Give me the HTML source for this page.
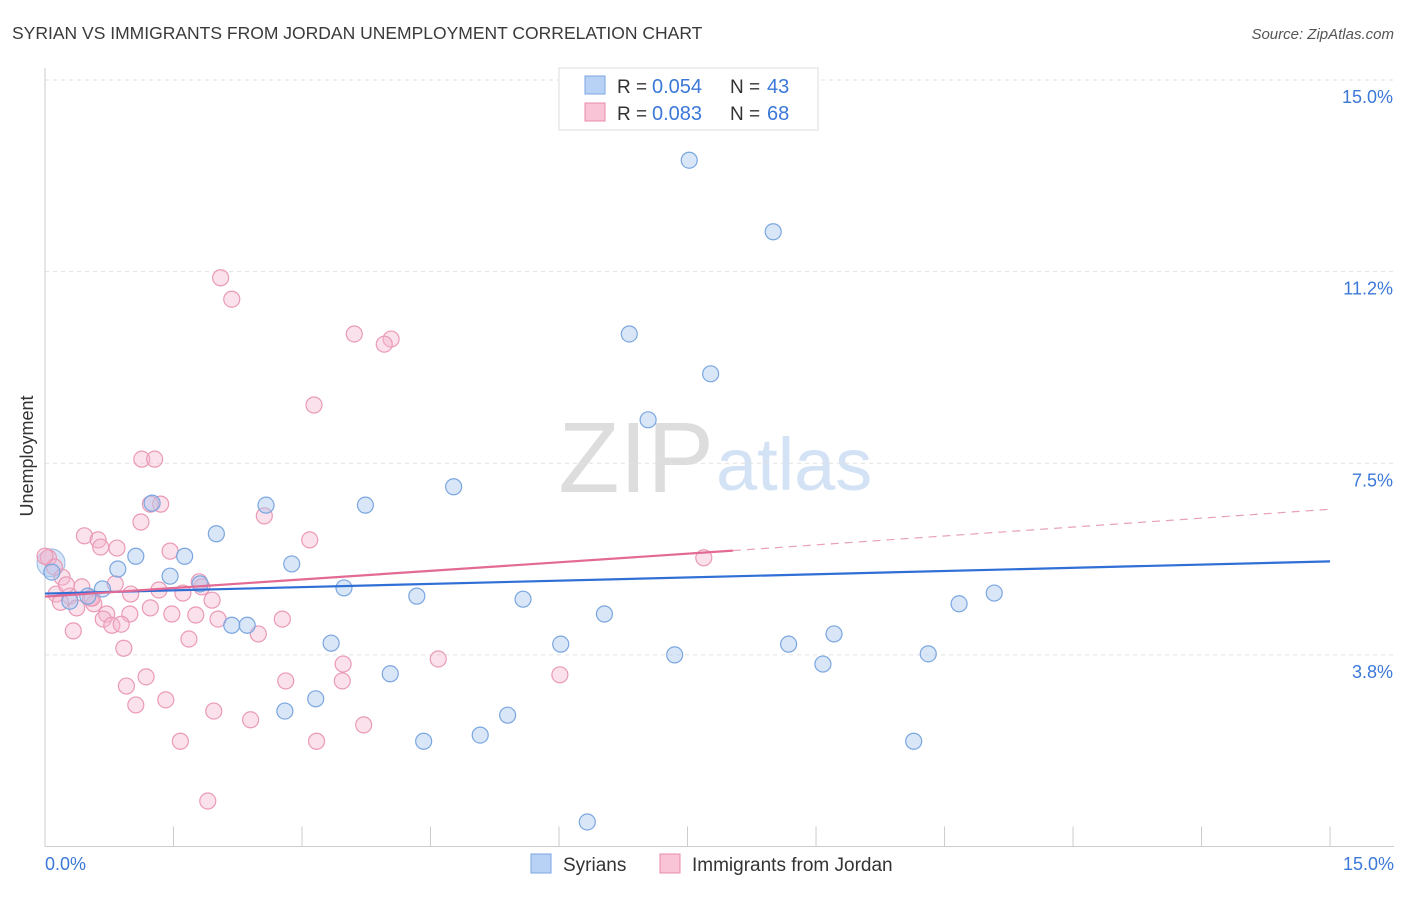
<!DOCTYPE html>
<html><head><meta charset="utf-8">
<style>
body{margin:0;background:#fff;font-family:"Liberation Sans",sans-serif;}
svg text{font-family:"Liberation Sans",sans-serif;}
</style></head>
<body>
<svg id="chart" width="1406" height="892" viewBox="0 0 1406 892" xmlns="http://www.w3.org/2000/svg">
<text x="12" y="39" font-size="17.5" fill="#3a3a3a">SYRIAN VS IMMIGRANTS FROM JORDAN UNEMPLOYMENT CORRELATION CHART</text>
<text x="1394" y="39" font-size="15" fill="#555" text-anchor="end" font-style="italic">Source: ZipAtlas.com</text>
<text x="714" y="492" font-size="100" fill="#ddd" text-anchor="end" font-family="Liberation Serif">ZIP</text>
<text x="716" y="490" font-size="74" fill="#d3e2f5">atlas</text>
<g id="grid"></g>
<g id="marks"></g>
<text transform="translate(33,456) rotate(-90)" font-size="18" fill="#333" text-anchor="middle">Unemployment</text>
<text x="45" y="870" font-size="18" fill="#3b78d8">0.0%</text>
<text x="1394" y="870" font-size="18" fill="#3b78d8" text-anchor="end">15.0%</text>
<g>
<rect x="559" y="68" width="259" height="62" fill="#fff" stroke="#ddd"/>
<rect x="585" y="76" width="20" height="18" fill="#b8d2f5" stroke="#7aa6e0"/>
<rect x="585" y="103" width="20" height="18" fill="#f9c5d6" stroke="#e88aa8"/>
<text x="617" y="93" font-size="19" fill="#333">R =</text>
<text x="652" y="93" font-size="20" fill="#3b78d8">0.054</text>
<text x="730" y="93" font-size="19" fill="#333">N =</text>
<text x="767" y="93" font-size="20" fill="#3b78d8">43</text>
<text x="617" y="120" font-size="19" fill="#333">R =</text>
<text x="652" y="120" font-size="20" fill="#3b78d8">0.083</text>
<text x="730" y="120" font-size="19" fill="#333">N =</text>
<text x="767" y="120" font-size="20" fill="#3b78d8">68</text>
</g>
<g>
<rect x="531" y="854" width="20" height="19" fill="#b8d2f5" stroke="#7aa6e0"/>
<text x="563" y="871" font-size="19" fill="#333">Syrians</text>
<rect x="660" y="854" width="20" height="19" fill="#f9c5d6" stroke="#e88aa8"/>
<text x="692" y="871" font-size="19" fill="#333">Immigrants from Jordan</text>
</g>
</svg>
<script>
const yTicks=[15.0,11.25,7.5,3.75];
const yTickLabels=["15.0%","11.2%","7.5%","3.8%"];
const xTicks=[0,1.5,3,4.5,6,7.5,9,10.5,12,13.5,15];
const syrianPx=[[689,160],[773,232],[629,334],[711,374],[648,420],[454,487],[365,505],[266,505],[152,503],[216,534],[136,556],[185,556],[292,564],[118,569],[170,576],[200,584],[102,589],[344,588],[417,596],[523,599],[604,614],[959,604],[994,593],[834,634],[789,644],[561,644],[331,643],[232,625],[247,625],[675,655],[823,664],[928,654],[390,674],[316,699],[285,711],[508,715],[480,735],[424,741],[914,741],[587,822],[70,601],[88,596],[52,572]];
const jordanPx=[[221,278],[232,299],[354,334],[391,339],[384,344],[314,405],[142,459],[155,459],[161,504],[150,504],[264,516],[141,522],[84,536],[98,540],[310,540],[101,547],[117,548],[170,551],[48,558],[54,567],[62,577],[199,582],[82,587],[159,590],[131,594],[183,593],[202,587],[56,594],[70,596],[90,598],[212,600],[60,602],[115,584],[77,608],[150,608],[94,604],[107,614],[130,614],[172,614],[196,615],[218,619],[282,619],[103,619],[112,625],[121,624],[73,631],[189,639],[258,634],[124,648],[438,659],[343,664],[560,675],[146,677],[286,681],[342,681],[126,686],[166,700],[136,705],[214,711],[251,720],[364,725],[180,741],[317,741],[208,801],[704,558],[66,585],[92,598],[45,556]];
const syrianXs=syrianPx.map(p=>+((p[0]-45)/85.67).toFixed(2));
const syrianYs=syrianPx.map(p=>+(15-(p[1]-80)/51.1).toFixed(2));
const jordanXs=jordanPx.map(p=>+((p[0]-45)/85.67).toFixed(2));
const jordanYs=jordanPx.map(p=>+(15-(p[1]-80)/51.1).toFixed(2));
const syrianTrend=[[0,4.95],[15,5.58]];
const jordanTrend=[[0,4.89],[8.03,5.79]];
const jordanTrendExt=[[8.03,5.79],[15,6.6]];
const X=v=>45+v*85.67, Y=v=>80+(15-v)*51.1;
const NS="http://www.w3.org/2000/svg";
function mk(tag,attrs,parent){const e=document.createElementNS(NS,tag);for(const k in attrs)e.setAttribute(k,attrs[k]);parent.appendChild(e);return e;}
const grid=document.getElementById('grid'), marks=document.getElementById('marks');
yTicks.forEach((t,i)=>{
 const l=mk('line',{x1:45,x2:1394,y1:Y(t),y2:Y(t),stroke:'#e2e2e2','stroke-dasharray':'4,4'},grid);
 
 
 const tx=mk('text',{x:1393,y:Y(t)+23,'font-size':18,fill:'#3b78d8','text-anchor':'end'},grid);
 tx.textContent=yTickLabels[i];
 
 
});
const ax=mk('line',{x1:45,x2:1394,y1:Y(0),y2:Y(0),stroke:'#ccc'},grid);


const ay=mk('line',{x1:45,x2:45,y1:68,y2:Y(0),stroke:'#ccc'},grid);


xTicks.forEach(t=>{
 const l=mk('line',{x1:X(t),x2:X(t),y1:Y(0),y2:Y(0)-20,stroke:'#ccc'},grid);
 
 
});
const big=mk('circle',{cx:X(0.07),cy:Y(5.55),r:14,fill:'rgba(170,200,240,0.45)',stroke:'#9ab9e6'},marks);


jordanXs.forEach((x,i)=>{
 const c=mk('circle',{cx:X(x),cy:Y(jordanYs[i]),r:8,fill:'rgba(245,180,204,0.4)',stroke:'#ea9ab5','stroke-width':1.2},marks);
 
 
});
syrianXs.forEach((x,i)=>{
 const c=mk('circle',{cx:X(x),cy:Y(syrianYs[i]),r:8,fill:'rgba(170,200,240,0.45)',stroke:'#7aa6e0','stroke-width':1.2},marks);
 
 
});
const t1=mk('line',{x1:X(syrianTrend[0][0]),y1:Y(syrianTrend[0][1]),x2:X(syrianTrend[1][0]),y2:Y(syrianTrend[1][1]),stroke:'#2f6fd6','stroke-width':2.2},marks);


const t2=mk('line',{x1:X(jordanTrend[0][0]),y1:Y(jordanTrend[0][1]),x2:X(jordanTrend[1][0]),y2:Y(jordanTrend[1][1]),stroke:'#e26a95','stroke-width':2.2},marks);


const t3=mk('line',{x1:X(jordanTrendExt[0][0]),y1:Y(jordanTrendExt[0][1]),x2:X(jordanTrendExt[1][0]),y2:Y(jordanTrendExt[1][1]),stroke:'#e8a0b8','stroke-width':1.2,'stroke-dasharray':'8,6'},marks);


</script>
</body></html>
